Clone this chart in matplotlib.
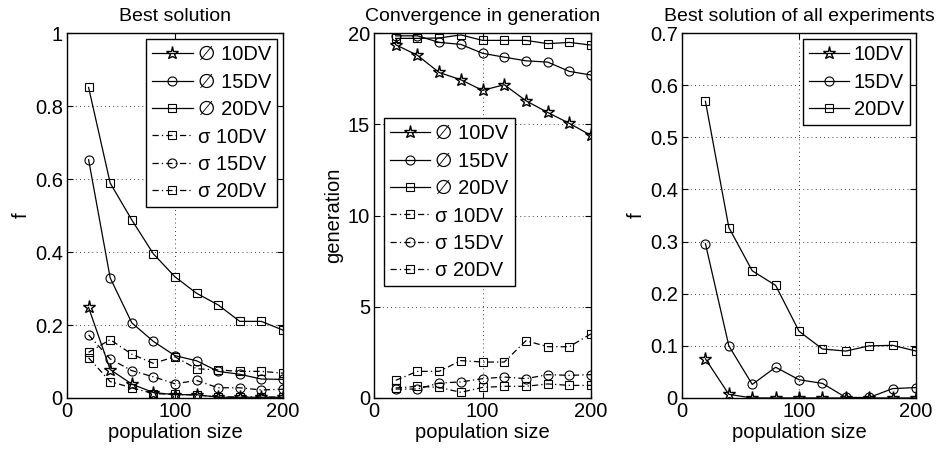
import matplotlib
matplotlib.use("Agg")
import matplotlib.pyplot as plt

plt.rcParams['font.family'] = ['Liberation Sans', 'DejaVu Sans']
plt.rcParams['font.size'] = 14.5

pop = [20, 40, 60, 80, 100, 120, 140, 160, 180, 200]

# Best solution (mean and std of f)
best_mean_10 = [0.248, 0.078, 0.038, 0.015, 0.009, 0.009, 0.002, 0.002, 0.002, 0.002]
best_mean_15 = [0.653, 0.329, 0.206, 0.155, 0.116, 0.102, 0.073, 0.065, 0.052, 0.051]
best_mean_20 = [0.851, 0.589, 0.488, 0.395, 0.332, 0.287, 0.255, 0.210, 0.210, 0.186]
best_std_10 = [0.110, 0.045, 0.028, 0.012, 0.010, 0.008, 0.003, 0.003, 0.003, 0.002]
best_std_15 = [0.173, 0.107, 0.075, 0.058, 0.039, 0.048, 0.028, 0.028, 0.022, 0.024]
best_std_20 = [0.125, 0.160, 0.120, 0.095, 0.113, 0.080, 0.077, 0.073, 0.073, 0.068]

# Convergence generation (mean and std)
gen_mean_10 = [19.36, 18.78, 17.84, 17.44, 16.86, 17.17, 16.29, 15.65, 15.05, 14.39]
gen_mean_15 = [19.85, 19.85, 19.49, 19.38, 18.89, 18.68, 18.48, 18.41, 17.90, 17.70]
gen_mean_20 = [19.71, 19.71, 19.73, 19.90, 19.60, 19.60, 19.60, 19.42, 19.49, 19.34]
gen_std_10 = [0.55, 0.64, 0.58, 0.31, 0.58, 0.64, 0.64, 0.77, 0.69, 0.69]
gen_std_15 = [0.49, 0.49, 0.82, 0.88, 1.06, 1.15, 1.06, 1.28, 1.24, 1.28]
gen_std_20 = [0.97, 1.46, 1.46, 2.05, 1.97, 1.97, 3.14, 2.81, 2.81, 3.52]

# Best solution of all experiments
all_best_10 = [0.075, 0.007, 0.0, 0.0, 0.0, 0.0, 0.0, 0.0, 0.0, 0.0]
all_best_15 = [0.296, 0.100, 0.026, 0.059, 0.035, 0.028, 0.001, 0.001, 0.018, 0.020]
all_best_20 = [0.569, 0.327, 0.244, 0.216, 0.128, 0.094, 0.090, 0.100, 0.101, 0.090]

dashdot = (0, (5, 2.5, 1, 2.5))
lw = 0.9
star = dict(marker='*', ms=9.5, mfc='none', mec='k', mew=1.0)
circ = dict(marker='o', ms=6.5, mfc='none', mec='k', mew=0.8)
sq = dict(marker='s', ms=5.5, mfc='none', mec='k', mew=0.8)


def style_axes(ax, ylim, yticks, yticklabels, ylabel, title):
    ax.set_xlim(0, 200)
    ax.set_ylim(*ylim)
    ax.set_xticks([0, 100, 200])
    ax.set_yticks(yticks)
    ax.set_yticklabels(yticklabels)
    ax.tick_params(direction='in', length=4, width=0.8, pad=3,
                   top=True, right=True)
    ax.grid(True, color='k', linestyle=(0, (1, 4)), linewidth=0.6)
    for s in ax.spines.values():
        s.set_linewidth(1.0)
    ax.set_xlabel('population size', labelpad=1)
    ax.set_ylabel(ylabel, labelpad=3)
    ax.set_title(title, fontsize=14, pad=9)


fig = plt.figure(figsize=(9.41, 4.55), dpi=100)
ax1 = fig.add_axes([0.0712, 0.1253, 0.2295, 0.802])
ax2 = fig.add_axes([0.3975, 0.1253, 0.2306, 0.802])
ax3 = fig.add_axes([0.7248, 0.1253, 0.2487, 0.802])

# Panel 1
ax1.plot(pop, best_mean_10, 'k-', lw=lw, label='\u2205 10DV', **star)
ax1.plot(pop, best_mean_15, 'k-', lw=lw, label='\u2205 15DV', **circ)
ax1.plot(pop, best_mean_20, 'k-', lw=lw, label='\u2205 20DV', **sq)
ax1.plot(pop, best_std_10, color='k', ls=dashdot, lw=lw, label='\u03c3 10DV', **sq)
ax1.plot(pop, best_std_15, color='k', ls=dashdot, lw=lw, label='\u03c3 15DV', **circ)
ax1.plot(pop, best_std_20, color='k', ls=dashdot, lw=lw, label='\u03c3 20DV', **sq)
style_axes(ax1, (0, 1), [0, 0.2, 0.4, 0.6, 0.8, 1],
           ['0', '0.2', '0.4', '0.6', '0.8', '1'], 'f', 'Best solution')

# Panel 2
ax2.plot(pop, gen_mean_10, 'k-', lw=lw, label='\u2205 10DV', **star)
ax2.plot(pop, gen_mean_15, 'k-', lw=lw, label='\u2205 15DV', **circ)
ax2.plot(pop, gen_mean_20, 'k-', lw=lw, label='\u2205 20DV', **sq)
ax2.plot(pop, gen_std_10, color='k', ls=dashdot, lw=lw, label='\u03c3 10DV', **sq)
ax2.plot(pop, gen_std_15, color='k', ls=dashdot, lw=lw, label='\u03c3 15DV', **circ)
ax2.plot(pop, gen_std_20, color='k', ls=dashdot, lw=lw, label='\u03c3 20DV', **sq)
style_axes(ax2, (0, 20), [0, 5, 10, 15, 20],
           ['0', '5', '10', '15', '20'], 'generation',
           'Convergence in generation')

# Panel 3
ax3.plot(pop, all_best_10, 'k-', lw=lw, label='10DV', **star)
ax3.plot(pop, all_best_15, 'k-', lw=lw, label='15DV', **circ)
ax3.plot(pop, all_best_20, 'k-', lw=lw, label='20DV', **sq)
style_axes(ax3, (0, 0.7), [0, 0.1, 0.2, 0.3, 0.4, 0.5, 0.6, 0.7],
           ['0', '0.1', '0.2', '0.3', '0.4', '0.5', '0.6', '0.7'], 'f',
           'Best solution of all experiments')

leg_kw = dict(fancybox=False, edgecolor='k', framealpha=1,
              handlelength=2.0, handletextpad=0.25, labelspacing=0.42,
              borderpad=0.3, borderaxespad=0.3)
for ax, kw in ((ax1, dict(loc='upper right')),
               (ax2, dict(loc='upper left', bbox_to_anchor=(0.046, 0.767),
                          borderaxespad=0)),
               (ax3, dict(loc='upper right'))):
    opts = dict(leg_kw)
    opts.update(kw)
    leg = ax.legend(**opts)
    leg.get_frame().set_linewidth(1.0)

fig.savefig('out.png', dpi=100)
